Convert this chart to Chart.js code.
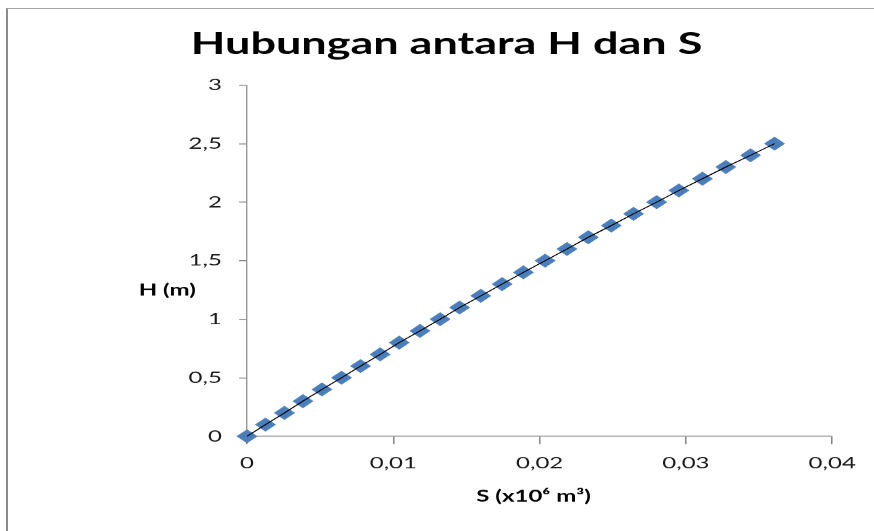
<!DOCTYPE html>
<html>
<head>
<meta charset="utf-8">
<script src="https://cdn.jsdelivr.net/npm/chart.js@4.4.1/dist/chart.umd.min.js"></script>
<style>
  html, body { margin: 0; padding: 0; background: #fff; }
  #wrap { position: relative; width: 874px; height: 531px; overflow: hidden; }
  #frame {
    position: absolute; left: 6px; top: 8px; right: -10px; bottom: -10px;
    border-left: 2px solid #8c8c8c; border-top: 1px solid #a3a3a3;
  }
  #chart { position: absolute; left: 0; top: 0; }
</style>
</head>
<body>
<div id="wrap">
  <div id="frame"></div>
  <!-- drawn at 583 wide and stretched to 874 like the original picture -->
  <canvas id="chart" width="583" height="531" style="width:874px;height:531px"></canvas>
</div>
<script>
// H (m) against S (x10^6 m3)
const hValues = [0, 0.1, 0.2, 0.3, 0.4, 0.5, 0.6, 0.7, 0.8, 0.9, 1.0, 1.1, 1.2,
  1.3, 1.4, 1.5, 1.6, 1.7, 1.8, 1.9, 2.0, 2.1, 2.2, 2.3, 2.4, 2.5];
const sValues = [0, 0.00126, 0.00256, 0.00382, 0.00512, 0.00646, 0.00776, 0.0091,
  0.0104, 0.01182, 0.0132, 0.01453, 0.01598, 0.01744, 0.01889, 0.02038, 0.02187,
  0.02333, 0.0249, 0.02642, 0.028, 0.02952, 0.03113, 0.03273, 0.03442, 0.03606];

const xTicks = [0, 0.01, 0.02, 0.03, 0.04];
const yTicks = [0, 0.5, 1, 1.5, 2, 2.5, 3];

const chartTitle = 'Hubungan antara H dan S';
const xTitle = 'S (x10\u2076 m\u00b3)';
const yTitle = 'H (m)';

const points = sValues.map((s, i) => ({ x: s, y: hValues[i] }));
const comma = v => String(v).replace('.', ',');
const axisGray = '#868686';
const FONT = 'Lato, "Open Sans", sans-serif';

// titles are drawn by hand: the y title sits flat, like in Excel
const textPlugin = {
  id: 'texts',
  afterDraw(chart) {
    const { ctx, chartArea } = chart;
    ctx.save();
    ctx.fillStyle = '#000';
    ctx.textBaseline = 'middle';

    ctx.font = 'bold 30px ' + FONT;
    ctx.textAlign = 'center';
    ctx.fillText(chartTitle, 297.7, 44);

    ctx.font = 'bold 16px ' + FONT;
    ctx.fillText(xTitle, (chartArea.left + chartArea.right) / 2 - 4, 496);

    ctx.textAlign = 'left';
    ctx.fillText(yTitle, 92.5, 290);
    ctx.restore();
  }
};

new Chart(document.getElementById('chart'), {
  type: 'scatter',
  data: {
    datasets: [{
      // the thin black line is drawn over the markers
      data: points,
      showLine: true,
      borderColor: '#000',
      borderWidth: 0.9,
      pointRadius: 0,
      clip: false,
      order: 0
    }, {
      data: points,
      showLine: false,
      pointStyle: 'rectRot',
      pointRadius: 6.2,
      pointBackgroundColor: '#4a7ebb',
      pointBorderColor: '#4f82bf',
      pointBorderWidth: 1.2,
      clip: false,
      order: 1
    }]
  },
  options: {
    responsive: false,
    devicePixelRatio: 1.5,
    animation: false,
    events: [],
    layout: { padding: { left: 0, top: 85, right: 28.2, bottom: 35 } },
    plugins: {
      legend: { display: false },
      title: { display: false },
      tooltip: { enabled: false }
    },
    scales: {
      x: {
        type: 'linear',
        min: 0,
        max: 0.04,
        afterBuildTicks: s => { s.ticks = xTicks.map(v => ({ value: v })); },
        afterFit: s => { s.height = 60; },
        border: { display: true, color: axisGray, width: 1 },
        grid: { drawOnChartArea: false, drawTicks: true, tickLength: 8, color: axisGray },
        ticks: {
          callback: v => comma(v),
          color: '#1a1a1a',
          font: { family: FONT, size: 16 },
          padding: 9,
          maxRotation: 0
        }
      },
      y: {
        type: 'linear',
        min: 0,
        max: 3,
        afterBuildTicks: s => { s.ticks = yTicks.map(v => ({ value: v })); },
        afterFit: s => { s.width = 164.7; },
        border: { display: true, color: axisGray, width: 0.8 },
        grid: { drawOnChartArea: false, drawTicks: true, tickLength: 5.3, color: axisGray },
        ticks: {
          callback: v => comma(v),
          color: '#1a1a1a',
          font: { family: FONT, size: 16 },
          padding: 11.5
        }
      }
    }
  },
  plugins: [textPlugin]
});
</script>
</body>
</html>
